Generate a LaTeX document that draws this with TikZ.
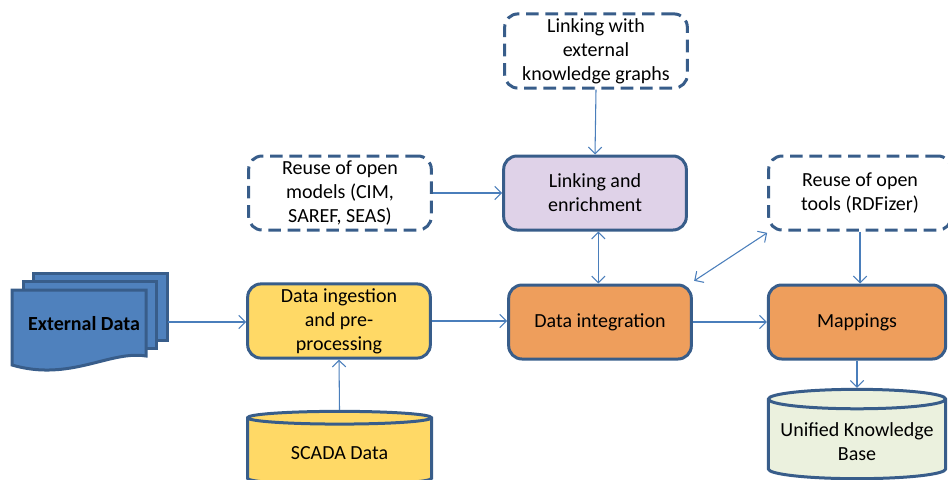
\documentclass[tikz,border=0pt]{standalone}
\usepackage{fontspec}
\setmainfont{Carlito}
\usetikzlibrary{arrows.meta,shapes.geometric}
\definecolor{bordc}{HTML}{385D8A}
\definecolor{arrc}{HTML}{4A7EBB}
\definecolor{extc}{HTML}{4F81BD}
\definecolor{yelc}{HTML}{FFD966}
\definecolor{orac}{HTML}{EE9E5C}
\definecolor{purc}{HTML}{DFD2E8}
\definecolor{grnc}{HTML}{EBF1DE}
\def\boxfont{\fontsize{15}{18}\selectfont}
\tikzset{
	box/.style={draw=bordc, line width=2.25pt, rounded corners=10pt, minimum width=137pt, minimum height=55.5pt, align=center, font=\boxfont},
	dashbox/.style={box, dash pattern=on 9.5pt off 5pt},
	db/.style={cylinder, shape border rotate=90, aspect=0.12, draw=bordc, line width=2.25pt, align=center, font=\boxfont, anchor=shape center},
	link/.style={draw=arrc, line width=0.8pt, -{Straight Barb[length=5pt,width=10pt]}},
	biglink/.style={link, {Straight Barb[length=5pt,width=10pt]}-{Straight Barb[length=5pt,width=10pt]}},
}

\begin{document}
\begin{tikzpicture}[x=0.75pt, y=-0.75pt]
		%%%%% START %%%%%
		\useasboundingbox (0, 0) rectangle (948, 479);
		
		% external data stack
		\draw[line width=2.25pt, draw=bordc, fill=extc] (33, 273) rectangle (167, 340);
		\draw[line width=2.25pt, draw=bordc, fill=extc] (23, 281) rectangle (156, 348);
		\draw[line width=2.25pt, draw=bordc, fill=extc] (12, 290) -- (146, 290) -- (146, 356) .. controls (110, 350) and (70, 382) .. (12, 365) -- cycle;
		\node[font=\boxfont\bfseries] (external) at (84, 324) {External Data};
		\coordinate (extout) at (168, 322);
		
		\node[box, fill=yelc] (ingestion) at (339, 321) {Data ingestion\\and pre-\\processing};
		\node[box, fill=orac] (integration) at (600, 322) {Data integration};
		\node[box, fill=orac, minimum width=133pt] (mappings) at (857, 322) {Mappings};
		\node[box, fill=purc] (linking) at (595, 193) {Linking and\\enrichment};
		
		\node[dashbox] (openmodels) at (340, 193) {Reuse of open\\models (CIM,\\SAREF, SEAS)};
		\node[dashbox] (extlink) at (596, 51) {Linking with\\external\\knowledge graphs};
		\node[dashbox] (opentools) at (860, 193) {Reuse of open\\tools (RDFizer)};
		
		\node[db, fill=yelc, minimum width=138pt, minimum height=55pt] (scada) at (339.5, 448) {SCADA Data};
		\node[db, fill=grnc, minimum width=133pt, minimum height=67pt] (ukb) at (857, 434) {Unified Knowledge\\Base};
		
		% connectors
		\draw[link] (extout) -- (extout -| ingestion.west);
		\draw[link] (scada.north) -- (ingestion.south);
		\draw[link] (ingestion.east) -- (integration.west |- ingestion.east);
		\draw[link] (integration.east) -- (mappings.west);
		\draw[link] (openmodels.east) -- (linking.west);
		\draw[link] (extlink.south) -- (linking.north);
		\draw[biglink] ([xshift=2.5pt]linking.south) -- ([xshift=2.5pt]linking.south |- integration.north);
		\draw[biglink] ([shift={(1pt,2pt)}]integration.north east) -- ([shift={(0pt,-1pt)}]opentools.south west);
		\draw[link] (opentools.south) -- (opentools.south |- mappings.north);
		\draw[link] (mappings.south) -- (ukb.north);
		
		%%%%% END %%%%%
	\end{tikzpicture}
\end{document}
